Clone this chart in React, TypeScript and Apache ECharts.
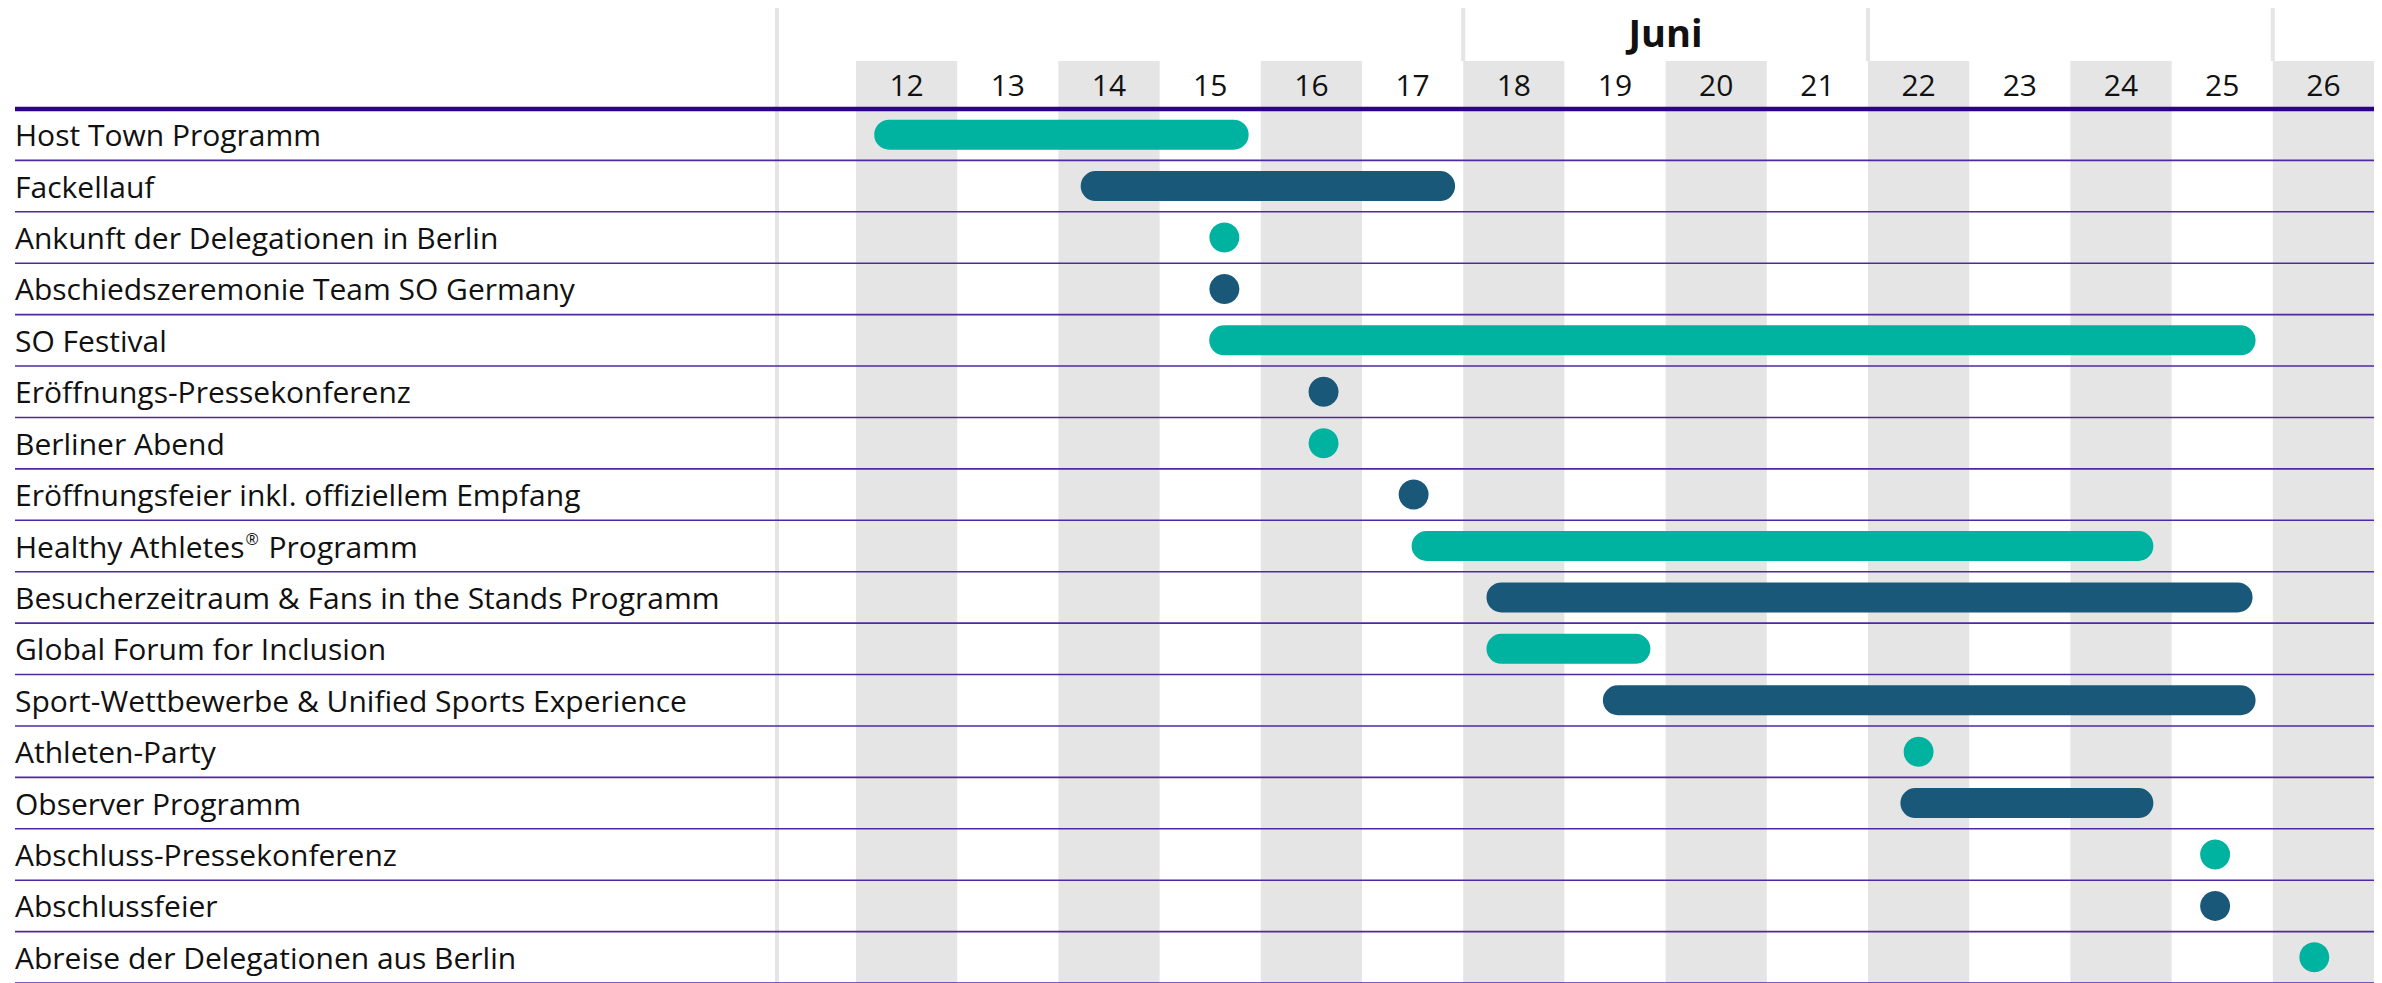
import React, { useEffect, useRef } from "react";
import * as echarts from "echarts";

// ---------- data ----------
const tasks = [
  "Host Town Programm",
  "Fackellauf",
  "Ankunft der Delegationen in Berlin",
  "Abschiedszeremonie Team SO Germany",
  "SO Festival",
  "Eröffnungs-Pressekonferenz",
  "Berliner Abend",
  "Eröffnungsfeier inkl. offiziellem Empfang",
  "Healthy Athletes® Programm",
  "Besucherzeitraum & Fans in the Stands Programm",
  "Global Forum for Inclusion",
  "Sport-Wettbewerbe & Unified Sports Experience",
  "Athleten-Party",
  "Observer Programm",
  "Abschluss-Pressekonferenz",
  "Abschlussfeier",
  "Abreise der Delegationen aus Berlin",
];

const dayLabels = ["12", "13", "14", "15", "16", "17", "18", "19", "20", "21", "22", "23", "24", "25", "26"];
const dayMin = 12;
const dayMax = 27;
const shadedDays = [12, 14, 16, 18, 20, 22, 24, 26];
const weekBoundaries = [18, 22, 26];
const monthLabels = ["Juni"];
const monthFrom = [18];
const monthTo = [22];

// bars: row index, start day, end day, colour key (0 teal, 1 dark blue)
const barRows = [0, 1, 4, 8, 9, 10, 11, 13];
const barStarts = [12.18, 14.22, 15.49, 17.49, 18.23, 18.23, 19.38, 22.32];
const barEnds = [15.88, 17.92, 25.83, 24.82, 25.8, 19.85, 25.83, 24.82];
const barColorKeys = [0, 1, 0, 0, 1, 0, 1, 1];

// single events (dots)
const dotRows = [2, 3, 5, 6, 7, 12, 14, 15, 16];
const dotDays = [15.64, 15.64, 16.62, 16.62, 17.51, 22.5, 25.43, 25.43, 26.41];
const dotColorKeys = [0, 1, 1, 0, 1, 0, 0, 1, 0];

// ---------- styles ----------
const COLORS = ["#00b3a0", "#1a587a"];
const BAND = "#e5e5e5";
const FONT = "'Open Sans', 'Noto Sans', sans-serif";
const LABEL_X = 15;

export default function App() {
  const ref = useRef<HTMLDivElement>(null);

  useEffect(() => {
    if (!ref.current) return;
    const chart = echarts.init(ref.current, undefined, { renderer: "svg" });

    const boundaries = Array.from({ length: tasks.length + 1 }, (_, i) => [dayMin, i]);

    const option: any = {
      animation: false,
      backgroundColor: "#ffffff",
      grid: { left: 856, top: 109, width: 1518, height: 878, containLabel: false },
      xAxis: [
        {
          type: "value",
          min: dayMin,
          max: dayMax,
          interval: 1,
          position: "bottom",
          axisLine: { show: false },
          axisTick: { show: false },
          axisLabel: { show: false },
          splitLine: { show: false },
        },
        {
          type: "category",
          data: dayLabels,
          position: "top",
          boundaryGap: true,
          z: 10,
          axisLine: { show: false },
          axisTick: { show: false },
          splitLine: { show: false },
          axisLabel: {
            fontSize: 30,
            fontFamily: FONT,
            color: "#111",
            margin: 25,
            verticalAlign: "middle",
            interval: 0,
          },
        },
      ],
      yAxis: {
        type: "category",
        data: tasks,
        inverse: true,
        z: 10,
        axisLine: { show: false },
        axisTick: { show: false },
        splitLine: { show: false },
        axisLabel: {
          interval: 0,
          margin: 856 - LABEL_X,
          align: "left",
          fontSize: 30,
          fontFamily: FONT,
          color: "#111",
          formatter: (v: string) => {
            const k = v.indexOf("®");
            if (k < 0) return "{t|" + v + "}";
            return "{t|" + v.slice(0, k) + "}{sup|®}{t|" + v.slice(k + 1) + "}";
          },
          rich: {
            t: { fontSize: 30, fontFamily: FONT, color: "#111" },
            sup: { fontSize: 16, fontFamily: FONT, color: "#111", verticalAlign: "top", padding: [0, 2, 14, 1] },
          },
        },
      },
      graphic: [
        {
          type: "line",
          z: 0,
          silent: true,
          shape: { x1: 777, y1: 8, x2: 777, y2: 983 },
          style: { stroke: BAND, lineWidth: 4 },
        },
      ],
      series: [
        {
          name: "bands",
          type: "custom",
          xAxisIndex: 0,
          z: 0,
          silent: true,
          data: shadedDays.map((d) => [d, 0]),
          renderItem: (params: any, api: any) => {
            const d = api.value(0);
            const p0 = api.coord([d, 0]);
            const p1 = api.coord([d + 1, 0]);
            const cs = params.coordSys;
            return {
              type: "rect",
              shape: { x: p0[0], y: cs.y - 48, width: p1[0] - p0[0], height: cs.height + 48 },
              style: { fill: BAND },
            };
          },
        },
        {
          name: "weeks",
          type: "custom",
          xAxisIndex: 0,
          z: 0,
          silent: true,
          data: weekBoundaries.map((d) => [d, 0]),
          renderItem: (params: any, api: any) => {
            const p = api.coord([api.value(0), 0]);
            const cs = params.coordSys;
            return {
              type: "line",
              shape: { x1: p[0], y1: cs.y - 101, x2: p[0], y2: cs.y - 48 },
              style: { stroke: BAND, lineWidth: 4 },
            };
          },
        },
        {
          name: "months",
          type: "custom",
          xAxisIndex: 0,
          z: 5,
          silent: true,
          data: monthLabels.map((m, i) => [monthFrom[i], monthTo[i], 0, m]),
          renderItem: (params: any, api: any) => {
            const a = api.coord([api.value(0), 0]);
            const b = api.coord([api.value(1), 0]);
            const cs = params.coordSys;
            return {
              type: "text",
              x: (a[0] + b[0]) / 2,
              y: cs.y - 77,
              style: {
                text: monthLabels[params.dataIndex],
                fontSize: 38,
                fontWeight: "bold",
                fontFamily: FONT,
                fill: "#111",
                align: "center",
                verticalAlign: "middle",
              },
            };
          },
        },
        {
          name: "rows",
          type: "custom",
          xAxisIndex: 0,
          z: 1,
          silent: true,
          data: boundaries,
          renderItem: (params: any, api: any) => {
            const i = api.value(1);
            const c = api.coord([dayMin, i]);
            const bw = api.size([0, 1])[1];
            const y = c[1] - bw / 2;
            const cs = params.coordSys;
            const header = i === 0;
            return {
              type: "line",
              shape: { x1: LABEL_X, y1: y, x2: cs.x + cs.width, y2: y },
              style: {
                stroke: header ? "#2d0287" : "#4f28a6",
                lineWidth: header ? 4.5 : 1.6,
              },
            };
          },
        },
        {
          name: "bars",
          type: "custom",
          xAxisIndex: 0,
          z: 3,
          encode: { x: [0, 1], y: 2 },
          data: barRows.map((r, i) => [barStarts[i], barEnds[i], r, barColorKeys[i]]),
          renderItem: (params: any, api: any) => {
            const s = api.coord([api.value(0), api.value(2)]);
            const e = api.coord([api.value(1), api.value(2)]);
            const h = 30;
            return {
              type: "rect",
              shape: { x: s[0], y: s[1] - h / 2, width: e[0] - s[0], height: h, r: h / 2 },
              style: { fill: COLORS[api.value(3)] },
            };
          },
        },
        {
          name: "events",
          type: "scatter",
          xAxisIndex: 0,
          z: 4,
          symbol: "circle",
          symbolSize: 30,
          data: dotRows.map((r, i) => [dotDays[i], r, dotColorKeys[i]]),
          itemStyle: {
            color: (p: any) => COLORS[p.data[2]],
            opacity: 1,
          },
        },
      ],
    };

    chart.setOption(option);
    return () => chart.dispose();
  }, []);

  return (
    <div
      ref={ref}
      style={{ position: "absolute", left: 0, top: 0, width: 2382, height: 983, background: "#fff" }}
    />
  );
}
